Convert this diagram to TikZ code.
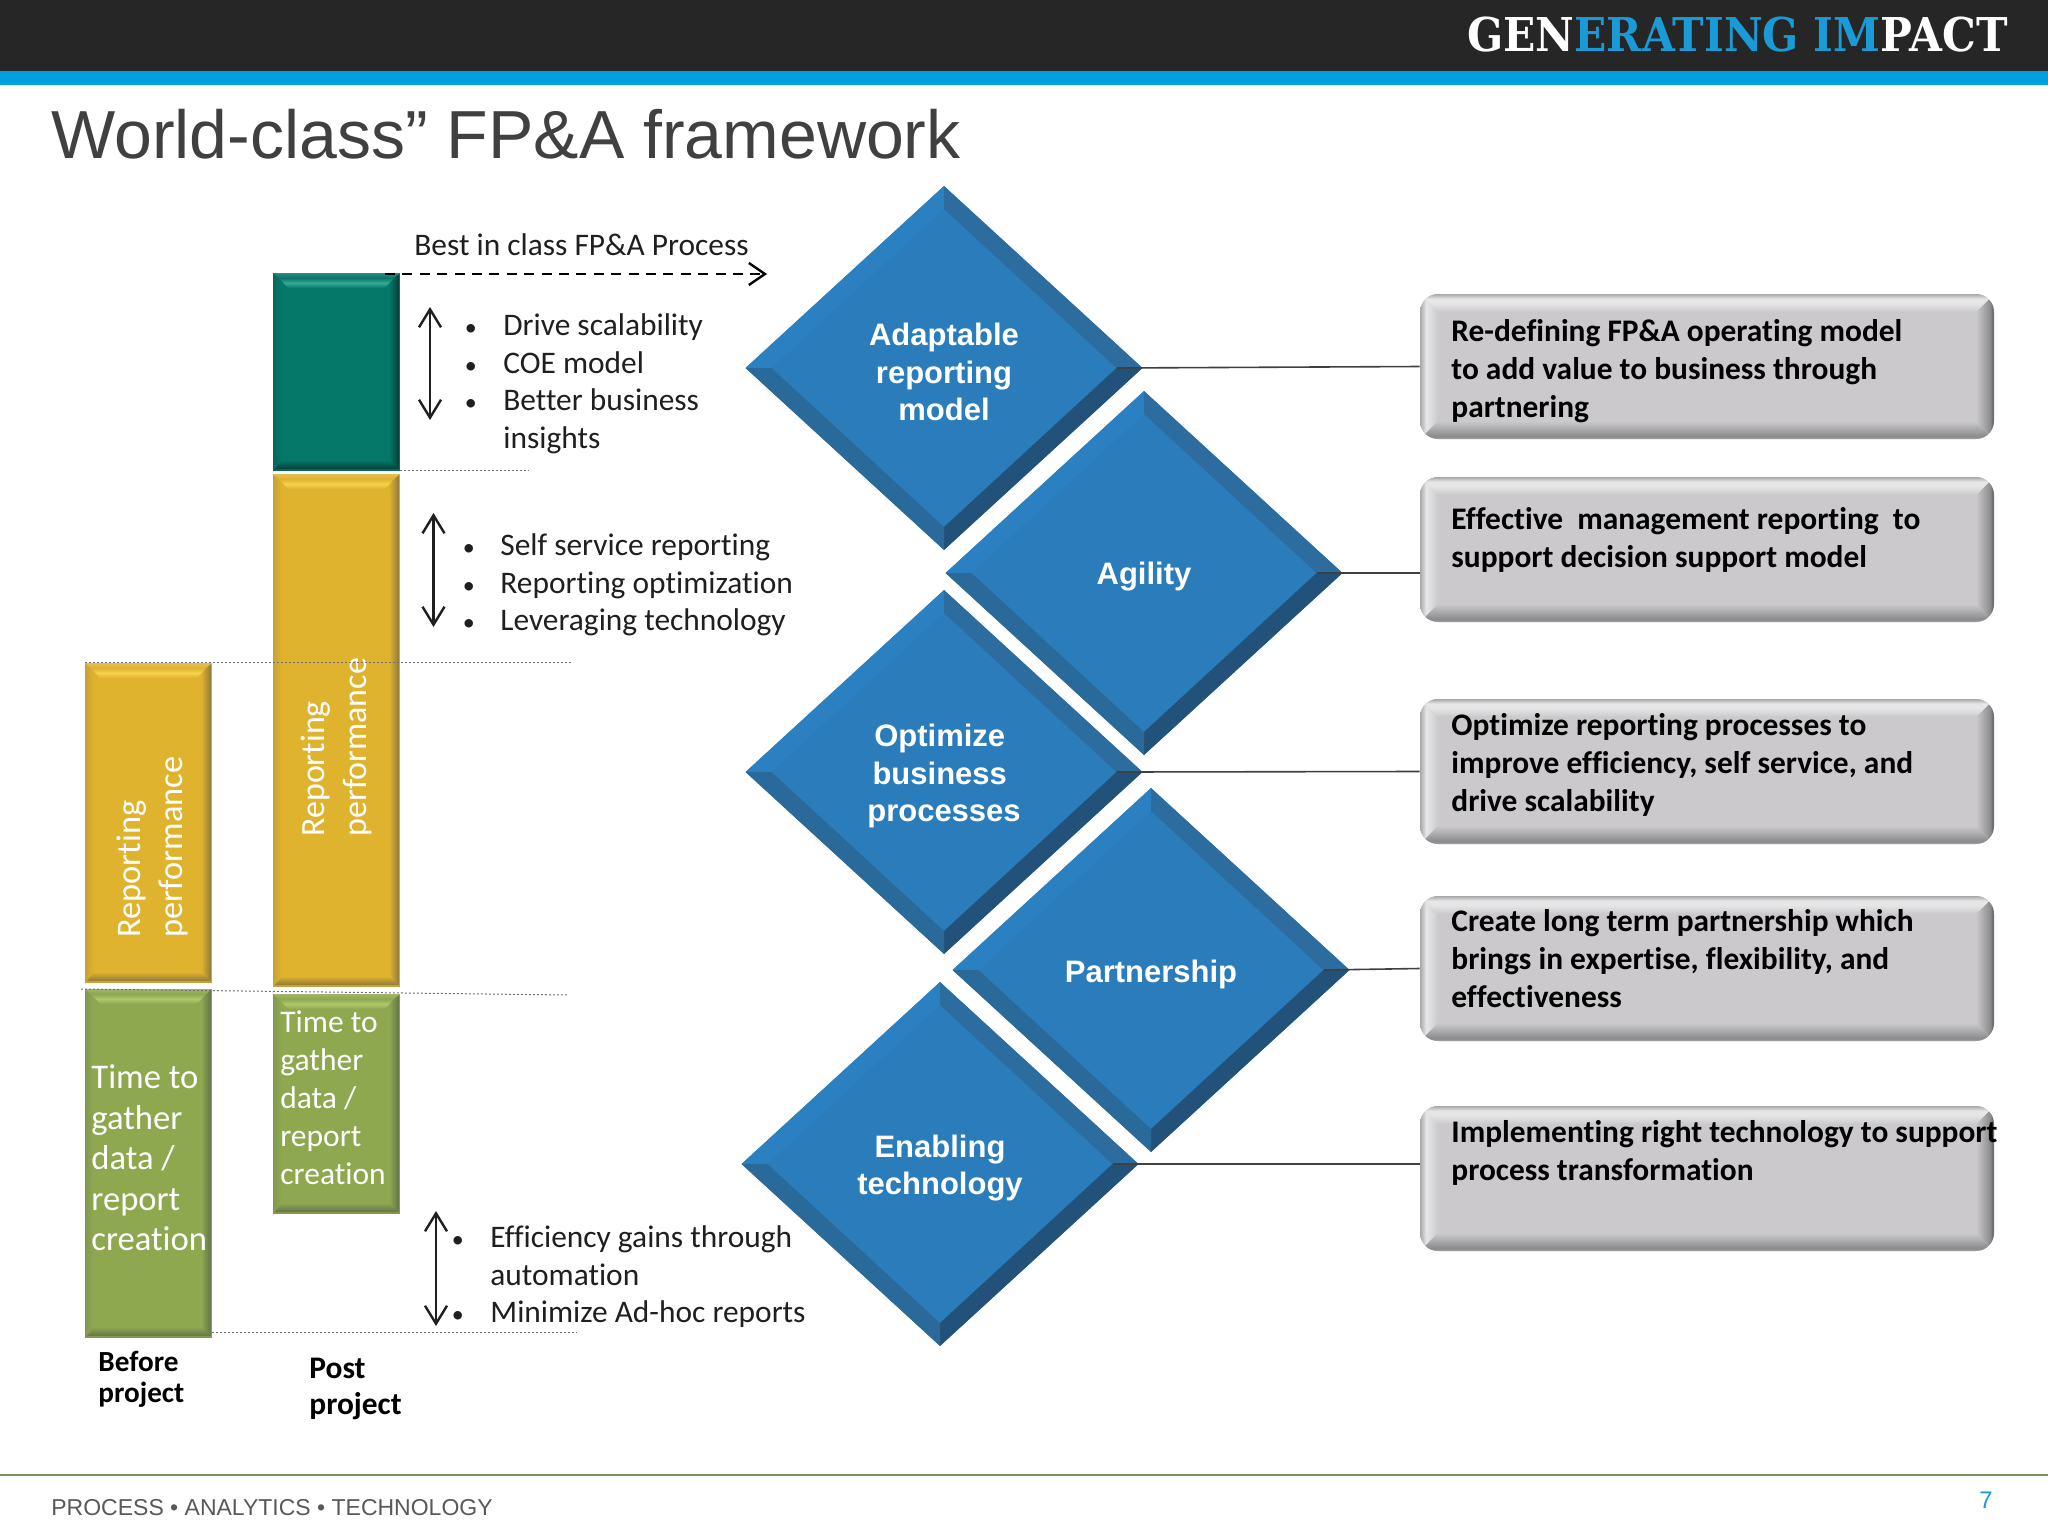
\documentclass[tikz,border=0pt]{standalone}
\usepackage{fontspec}
\usetikzlibrary{shapes.geometric,arrows.meta,calc}
\setmainfont{Carlito}[Ligatures=NoCommon]
\newfontfamily\arialf{Liberation Sans}
\newfontfamily\slabf{DejaVu Serif}
\definecolor{hdrblack}{HTML}{262626}
\definecolor{hdrblue}{HTML}{00A0E0}
\definecolor{hdrtxt}{HTML}{1A9AD7}
\definecolor{titlegray}{HTML}{404040}
\definecolor{footgray}{HTML}{595959}
\definecolor{footline}{HTML}{7F8F5A}
\definecolor{dmain}{HTML}{2A7DBA}
\definecolor{dtl}{HTML}{2A80C0}
\definecolor{dtr}{HTML}{2C6C9E}
\definecolor{dbl}{HTML}{2A6A9A}
\definecolor{dbr}{HTML}{22527A}
\definecolor{boxfill}{HTML}{CBC9CC}
\definecolor{boxhi}{HTML}{E6E6E7}
\definecolor{boxedge}{HTML}{A8A8AA}
\definecolor{boxdark}{HTML}{8A8A8C}
\definecolor{boxsided}{HTML}{68686A}
\definecolor{ymain}{HTML}{E0B32F}
\definecolor{ylight}{HTML}{F5D24E}
\definecolor{ydark}{HTML}{8F7A3A}
\definecolor{gmain}{HTML}{8EA850}
\definecolor{glight}{HTML}{ADC76A}
\definecolor{gdark}{HTML}{62744A}
\definecolor{tmain}{HTML}{05786A}
\definecolor{tlight}{HTML}{35A894}
\definecolor{tdark}{HTML}{073F38}
\definecolor{dotgray}{HTML}{707070}
\pgfdeclareverticalshading{boxtop}{100bp}{color(0bp)=(boxfill);color(25bp)=(boxfill);color(50bp)=(boxhi);color(62bp)=(boxhi);color(75bp)=(boxedge);color(100bp)=(boxedge)}
\pgfdeclareverticalshading{boxbot}{100bp}{color(0bp)=(boxedge);color(25bp)=(boxedge);color(32bp)=(boxdark);color(75bp)=(boxfill);color(100bp)=(boxfill)}
\pgfdeclarehorizontalshading{boxleft}{100bp}{color(0bp)=(boxedge);color(25bp)=(boxedge);color(42bp)=(boxhi);color(75bp)=(boxfill);color(100bp)=(boxfill)}
\pgfdeclarehorizontalshading{boxright}{100bp}{color(0bp)=(boxfill);color(25bp)=(boxfill);color(65bp)=(boxdark);color(71bp)=(boxsided);color(75bp)=(boxdark);color(100bp)=(boxdark)}
\tikzset{
  x=0.5pt,y=-0.5pt,
  lab/.style={font=\fontsize{15.7}{18.8}\selectfont,text=black!88},
  blt/.style={font=\fontsize{12}{18.8}\selectfont,text=black!88},
  boxlab/.style={font=\fontsize{15.7}{19}\bfseries\selectfont,text=black},
  barlab/.style={font=\fontsize{17.2}{21}\selectfont,text=white},
  barlabb/.style={font=\fontsize{17}{21}\selectfont,text=white},
  greenl/.style={font=\fontsize{17.3}{20.3}\selectfont,text=white},
  greens/.style={font=\fontsize{15.75}{19}\selectfont,text=white},
  dialab/.style={font=\arialf\fontsize{15.5}{18.8}\bfseries\selectfont,text=white},
  dotline/.style={draw=dotgray,line width=0.5pt,dash pattern=on 1pt off 1pt},
  linkline/.style={draw=black!75,line width=0.8pt},
  dblarrow/.style={draw=black!88,line width=1.2pt,{Straight Barb[length=9pt,width=11pt]}-{Straight Barb[length=9pt,width=11pt]}},
  dasharrow/.style={draw=black,line width=1.2pt,dash pattern=on 5pt off 3.7pt,-{Straight Barb[length=8pt,width=11pt]}}
}
% text block: first baseline at y=#3
\newcommand\tbk[5]{\node[anchor=north west,inner sep=0pt,align=left,#4] (#1) at (#2,{#3-30}) {\rule{0pt}{15pt}#5};}
% rotated text block: baseline at x=#2, start at y=#3
\newcommand\rbk[5]{\node[anchor=north west,inner sep=0pt,align=left,rotate=90,#4] (#1) at ({#2-30},#3) {\rule{0pt}{15pt}#5};}
% bevelled bar: name,x0,y0,x1,y1,main,light,dark
\newcommand\bevbar[8]{%
  \node[rectangle,inner sep=0pt,fill=#6,minimum width={(#4-#2)*0.5pt},minimum height={(#5-#3)*0.5pt}] (#1) at ({(#2+#4)/2},{(#3+#5)/2}) {};
  \shade[left color=#6!70!#8,right color=#6] (#2,#3)--({#2+9},{#3+9})--({#2+9},{#5-9})--(#2,#5)--cycle;
  \shade[left color=#6,right color=#8] ({#4-1},#3)--({#4-11},{#3+9})--({#4-11},{#5-9})--({#4-1},#5)--cycle;
  \shade[top color=#6,bottom color=#6,middle color=#7] ({#2+6},{#3+5})--({#4-6},{#3+5})--({#4-15},{#3+15})--({#2+15},{#3+15})--cycle;
  \shade[top color=#6!85!white,bottom color=#6] (#2,#3)--(#4,#3)--({#4-6},{#3+5})--({#2+6},{#3+5})--cycle;
  \shade[top color=#6,bottom color=#8] ({#2+9},{#5-11})--({#4-9},{#5-11})--({#4-2},{#5-2})--({#2+2},{#5-2})--cycle;
  \fill[#6!70!#8] (#2,{#5-2}) rectangle (#4,#5);
}
% bevelled diamond: name,cx,cy,text
\newcommand\bevdia[4]{%
  \node[diamond,aspect=1.09,inner sep=0pt,minimum width=198.5pt,minimum height=182pt,fill=dmain] (#1) at (#2,#3) {};
  \fill[dtl] ({#2-198.5},#3)--(#2,{#3-182})--(#2,{#3-159})--({#2-172.5},#3)--cycle;
  \fill[dtr] (#2,{#3-182})--({#2+198.5},#3)--({#2+172.5},#3)--(#2,{#3-159})--cycle;
  \fill[dbr] ({#2+198.5},#3)--(#2,{#3+182})--(#2,{#3+159})--({#2+172.5},#3)--cycle;
  \fill[dbl] ({#2-198.5},#3)--(#2,{#3+182})--(#2,{#3+159})--({#2-172.5},#3)--cycle;
  \node[inner sep=0pt,align=center,dialab] (#1t) at (#2,{#3+4}) {#4};
}
% bevelled grey box: name,y0,y1
\newcommand\gbox[3]{%
  \node[rectangle,rounded corners=9pt,inner sep=0pt,fill=boxfill,minimum width=287pt,minimum height={(#3-#2)*0.5pt}] (#1) at (1707,{(#2+#3)/2}) {};
  \begin{scope}
    \clip[rounded corners=9pt] (1420,#2) rectangle (1994,#3);
    \shade[shading=boxleft] (1420,#2)--(1438,{#2+18})--(1438,{#3-18})--(1420,#3)--cycle;
    \shade[shading=boxright] (1994,#2)--(1976,{#2+18})--(1976,{#3-18})--(1994,#3)--cycle;
    \shade[shading=boxtop] (1420,#2)--(1994,#2)--(1976,{#2+18})--(1438,{#2+18})--cycle;
    \shade[shading=boxbot] (1420,#3)--(1994,#3)--(1976,{#3-18})--(1438,{#3-18})--cycle;
  \end{scope}
}
\begin{document}
\begin{tikzpicture}
\useasboundingbox (0,0) rectangle (2048,1536);
\fill[white] (0,0) rectangle (2048,1536);
% header
\fill[hdrblack] (0,0) rectangle (2048,71);
\fill[hdrblue] (0,71) rectangle (2048,85);
\node[anchor=base east,inner sep=0pt,xscale=0.91,font=\slabf\fontsize{23.3}{26}\bfseries\selectfont,text=white] (hdr) at (2008,52) {GEN\textcolor{hdrtxt}{ERATING IM}PACT};
\node[anchor=base west,inner sep=0pt,font=\arialf\fontsize{34}{40}\selectfont,text=titlegray] (title) at (51,158) {World-class” FP\&A framework};
% bars
\bevbar{ybefore}{85}{663}{212}{983}{ymain}{ylight}{ydark}
\bevbar{gbefore}{85}{989}{212}{1338}{gmain}{glight}{gdark}
\bevbar{tpost}{273}{273}{400}{471}{tmain}{tlight}{tdark}
\bevbar{ypost}{273}{474}{400}{987}{ymain}{ylight}{ydark}
\bevbar{gpost}{273}{994}{400}{1214}{gmain}{glight}{gdark}
% bar labels
\rbk{ybl}{140}{938}{barlab}{Reporting\\performance}
\rbk{ypl}{324}{837}{barlabb}{Reporting\\performance}
\tbk{gbl}{91}{1088}{greenl}{Time to\\gather\\data /\\report\\creation}
\tbk{gpl}{280}{1032}{greens}{Time to\\gather\\data /\\report\\creation}
\tbk{bfl}{98}{1371}{font=\fontsize{14.6}{15.5}\bfseries\selectfont,text=black}{Before\\project}
\tbk{pol}{309}{1378}{font=\fontsize{15.7}{18}\bfseries\selectfont,text=black}{Post\\project}
% dotted guides
\coordinate (d1a) at (400,470); \coordinate (d1b) at (529,470);
\coordinate (d2a) at (85,662); \coordinate (d2b) at (572,662);
\coordinate (d3a) at (81,989); \coordinate (d3b) at (568,995);
\coordinate (d4a) at (212,1332); \coordinate (d4b) at (577,1332);
\draw[dotline] (d1a)--(d1b);
\draw[dotline] (d2a)--(d2b);
\draw[dotline] (d3a)--(d3b);
\draw[dotline] (d4a)--(d4b);
% arrows
\coordinate (da) at (385,274); \coordinate (db) at (767,274);
\draw[dasharrow] (da)--(db);
\coordinate (a1a) at (430,307); \coordinate (a1b) at (430,420);
\coordinate (a2a) at (433.5,513); \coordinate (a2b) at (433.5,627);
\coordinate (a3a) at (436,1211); \coordinate (a3b) at (436,1326);
\draw[dblarrow] (a1a)--(a1b);
\draw[dblarrow] (a2a)--(a2b);
\draw[dblarrow] (a3a)--(a3b);
% left texts
\tbk{best}{414}{255}{lab}{Best in class FP\&A Process}
\tbk{bu1}{464.5}{335}{blt}{•\\•\\•}
\tbk{li1}{503}{335}{lab}{Drive scalability\\COE model\\Better business\\insights}
\tbk{bu2}{462.5}{555}{blt}{•\\•\\•}
\tbk{li2}{500}{555}{lab}{Self service reporting\\Reporting optimization\\Leveraging technology}
\tbk{bu3}{451.5}{1247}{blt}{•\\\\•}
\tbk{li3}{490}{1247}{lab}{Efficiency gains through\\automation\\Minimize Ad-hoc reports}
% diamonds
\bevdia{dia1}{944}{368}{Adaptable\\reporting\\model}
\bevdia{dia2}{1144}{573}{Agility}
\bevdia{dia3}{944}{772}{Optimize\rule{4.3pt}{0pt}\\business\rule{4.3pt}{0pt}\\processes}
\bevdia{dia4}{1151}{970}{Partnership}
\bevdia{dia5}{940}{1164}{Enabling\\technology}
% grey boxes
\gbox{box1}{294}{439}
\gbox{box2}{477}{622}
\gbox{box3}{699}{844}
\gbox{box4}{896}{1041}
\gbox{box5}{1106}{1251}
% connectors
\draw[linkline] ([xshift=-13pt]dia1.east)--(box1.west);
\draw[linkline] ([xshift=-13pt]dia2.east)--(box2.west |- dia2.east);
\draw[linkline] ([xshift=-13pt]dia3.east)--(box3.west);
\draw[linkline] ([xshift=-13pt]dia4.east)--(box4.west);
\draw[linkline] ([xshift=-13pt]dia5.east)--(box5.west |- dia5.east);
% box texts
\tbk{bt1}{1451}{341}{boxlab}{Re-defining FP\&A operating model\\to add value to business through\\partnering}
\tbk{bt2}{1451}{529}{boxlab}{Effective~ management reporting~ to\\support decision support model}
\tbk{bt3}{1451}{735}{boxlab}{Optimize reporting processes to\\improve efficiency, self service, and\\drive scalability}
\tbk{bt4}{1451}{931}{boxlab}{Create long term partnership which\\brings in expertise, flexibility, and\\effectiveness}
\tbk{bt5}{1451}{1142}{boxlab}{Implementing right technology to support\\process transformation}
% footer
\coordinate (fa) at (0,1475); \coordinate (fb) at (2048,1475);
\draw[footline,line width=1pt] (fa)--(fb);
\node[anchor=base west,inner sep=0pt,font=\arialf\fontsize{11.5}{14}\selectfont,text=footgray] (foot) at (51,1515) {PROCESS • ANALYTICS • TECHNOLOGY};
\node[anchor=base,inner sep=0pt,font=\arialf\fontsize{12}{14}\selectfont,text=hdrtxt] (page) at (1986,1508) {7};
\end{tikzpicture}
\end{document}
